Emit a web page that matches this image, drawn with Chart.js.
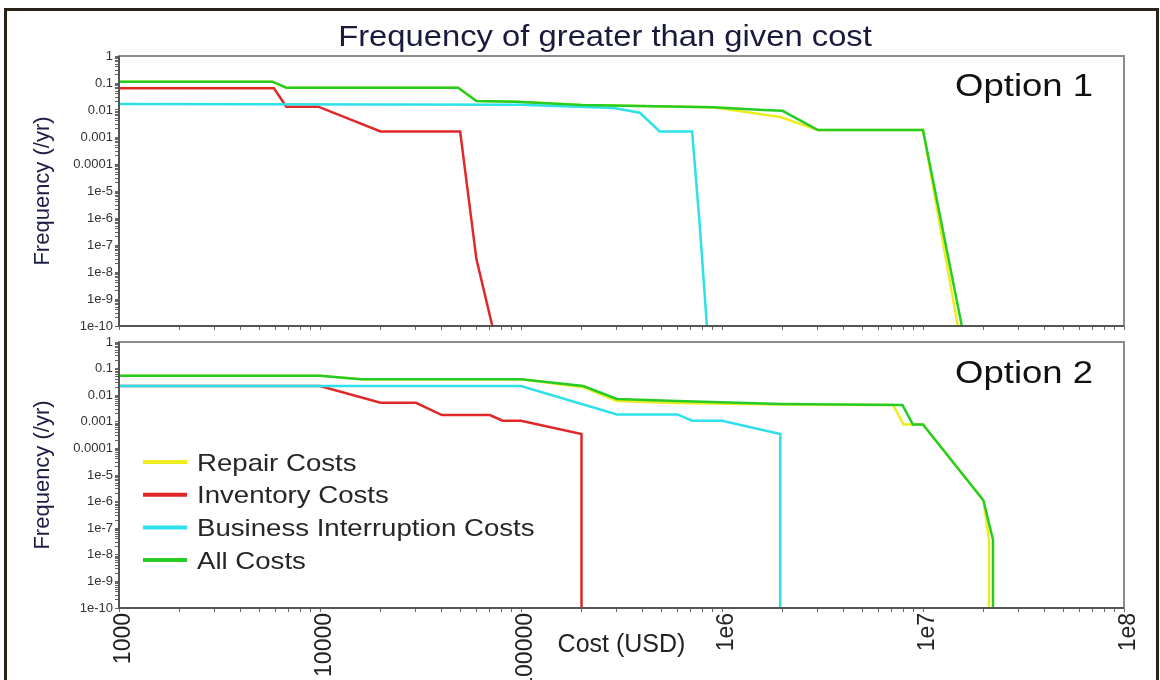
<!DOCTYPE html>
<html>
<head>
<meta charset="utf-8">
<script src="https://cdn.jsdelivr.net/npm/chart.js@4.4.1/dist/chart.umd.min.js"></script>
<style>
  html, body { margin: 0; padding: 0; background: #fff; }
  #wrap { position: relative; width: 1160px; height: 680px; overflow: hidden; }
  #frame { position: absolute; left: 4px; top: 8px; width: 1149px; height: 700px; border: 3px solid #2a2218; }
  #top { position: absolute; left: 0; top: 0; }
  #bottom { position: absolute; left: 0; top: 330px; }
</style>
</head>
<body>
<div id="wrap">
  <div id="frame"></div>
  <canvas id="top" width="1160" height="336"></canvas>
  <canvas id="bottom" width="1160" height="350"></canvas>
</div>
<script>
const seriesNames = ['Repair Costs', 'Inventory Costs', 'Business Interruption Costs', 'All Costs'];
const seriesColors = ['#ecec1e', '#e02828', '#2ee0ea', '#26cc26'];
const xTickLabels = ['1000', '10000', '100000', '1e6', '1e7', '1e8'];
const yTickLabels = ['1e-10', '1e-9', '1e-8', '1e-7', '1e-6', '1e-5', '0.0001', '0.001', '0.01', '0.1', '1'];

// Option 1 (cost in USD, frequency per year)
const opt1RepairCost = [1000, 5800, 6800, 48700, 60000, 95000, 200000, 900000, 1950000, 3000000, 10000000, 14900000];
const opt1RepairFreq = [0.112, 0.112, 0.067, 0.067, 0.0216, 0.0203, 0.0153, 0.0126, 0.0055, 0.0018, 0.0018, 1e-10];
const opt1InventoryCost = [1000, 5900, 6800, 9800, 20000, 49800, 60000, 72000];
const opt1InventoryFreq = [0.064, 0.064, 0.0133, 0.0133, 0.0016, 0.0016, 3e-8, 1e-10];
const opt1BusinessCost = [1000, 100000, 290000, 390000, 490000, 710000, 776000, 841000];
const opt1BusinessFreq = [0.0166, 0.0157, 0.0119, 0.0079, 0.0016, 0.0016, 4.8e-7, 1e-10];
const opt1AllCost = [1000, 5800, 6800, 48700, 60000, 95000, 200000, 900000, 1600000, 2000000, 3000000, 10000000, 15600000];
const opt1AllFreq = [0.112, 0.112, 0.067, 0.067, 0.0216, 0.0203, 0.0153, 0.0126, 0.0099, 0.0093, 0.0018, 0.0018, 1e-10];

// Option 2
const opt2RepairCost = [1000, 10000, 16000, 100000, 204000, 300000, 600000, 1950000, 7100000, 8000000, 10000000, 20000000, 21300000, 21300000];
const opt2RepairFreq = [0.054, 0.054, 0.04, 0.04, 0.02, 0.0061, 0.0051, 0.0045, 0.0043, 0.0008, 0.0008, 1.1e-6, 3.6e-8, 1e-10];
const opt2InventoryCost = [1000, 10000, 20000, 30000, 40400, 70000, 81000, 100000, 200000, 200000];
const opt2InventoryFreq = [0.022, 0.022, 0.0052, 0.0052, 0.0018, 0.0018, 0.0011, 0.0011, 0.00035, 1e-10];
const opt2BusinessCost = [1000, 100000, 300000, 600000, 710000, 1000000, 1950000, 1950000];
const opt2BusinessFreq = [0.022, 0.022, 0.0019, 0.0019, 0.0011, 0.0011, 0.00035, 1e-10];
const opt2AllCost = [1000, 10000, 16000, 100000, 204000, 300000, 600000, 1950000, 7900000, 8900000, 10000000, 20000000, 22300000, 22300000];
const opt2AllFreq = [0.054, 0.054, 0.04, 0.04, 0.022, 0.0072, 0.006, 0.0047, 0.0043, 0.0008, 0.0008, 1.1e-6, 3.6e-8, 1e-10];

const FONT = "'Liberation Sans', Arial, sans-serif";

function pts(xs, ys) {
  return xs.map((x, i) => ({ x: x, y: ys[i] }));
}

function makeSets(groups) {
  // green drawn on top, yellow at the bottom
  const order = [3, 2, 1, 0];
  return groups.map((g, i) => ({
    label: seriesNames[i],
    data: pts(g[0], g[1]),
    borderColor: seriesColors[i],
    borderWidth: 2.5,
    pointRadius: 0,
    tension: 0,
    fill: false,
    order: order[i]
  }));
}

// one tick per 1..9 x 10^e, names only on the decades
function logTicks(lo, hi, names) {
  const t = [];
  for (let e = lo; e < hi; e++) {
    for (let m = 1; m < 10; m++) {
      t.push({ value: m * Math.pow(10, e), name: m === 1 ? names[e - lo] : '' });
    }
  }
  t.push({ value: Math.pow(10, hi), name: names[hi - lo] });
  return t;
}

function wideText(ctx, text, x, y, size, align, color, sx) {
  ctx.save();
  ctx.font = size + 'px ' + FONT;
  ctx.fillStyle = color;
  ctx.textAlign = align;
  ctx.textBaseline = 'alphabetic';
  ctx.translate(x, y);
  ctx.scale(sx, 1);
  ctx.fillText(text, 0, 0);
  ctx.restore();
}

const plotFrame = {
  id: 'plotFrame',
  afterDatasetsDraw(chart) {
    const { ctx, chartArea: a } = chart;
    ctx.save();
    ctx.strokeStyle = '#8c8c8c';
    ctx.lineWidth = 2;
    ctx.strokeRect(a.left, a.top, a.right - a.left, a.bottom - a.top);
    ctx.strokeStyle = '#555';
    ctx.beginPath();
    ctx.moveTo(a.left, a.top);
    ctx.lineTo(a.left, a.bottom);
    ctx.lineTo(a.right, a.bottom);
    ctx.stroke();
    ctx.restore();
  }
};

const topTexts = {
  id: 'topTexts',
  afterDraw(chart) {
    const { ctx, chartArea: a } = chart;
    wideText(ctx, 'Frequency of greater than given cost', 605, 46, 29, 'center', '#1a1a3c', 1.13);
    wideText(ctx, 'Option 1', a.right - 31, a.top + 40, 32, 'right', '#111', 1.14);
  }
};

const bottomTexts = {
  id: 'bottomTexts',
  afterDraw(chart) {
    const { ctx, chartArea: a } = chart;
    wideText(ctx, 'Option 2', a.right - 31, a.top + 41, 32, 'right', '#111', 1.14);
    seriesNames.forEach((name, i) => {
      const y = a.top + 120 + i * 32.7;
      ctx.save();
      ctx.strokeStyle = seriesColors[i];
      ctx.lineWidth = 4;
      ctx.beginPath();
      ctx.moveTo(a.left + 24, y);
      ctx.lineTo(a.left + 68, y);
      ctx.stroke();
      ctx.restore();
      wideText(ctx, name, a.left + 78, y + 8.5, 24, 'left', '#262626', 1.15);
    });
  }
};

function buildChart(id, groups, padTop, axisHeight, showX, extra) {
  return new Chart(document.getElementById(id), {
    type: 'line',
    data: { datasets: makeSets(groups) },
    options: {
      responsive: false,
      animation: false,
      events: [],
      layout: { padding: { top: padTop, right: 36, bottom: 0, left: 0 } },
      plugins: { legend: { display: false }, tooltip: { enabled: false } },
      scales: {
        x: {
          type: 'logarithmic',
          min: 1000,
          max: 1e8,
          afterBuildTicks: s => { s.ticks = logTicks(3, 8, xTickLabels); },
          afterFit: s => { s.height = axisHeight; },
          border: { display: false },
          grid: { drawOnChartArea: false, drawTicks: true, tickLength: 4, color: '#666' },
          ticks: {
            display: showX,
            autoSkip: false,
            minRotation: 90,
            maxRotation: 90,
            padding: 1,
            labelOffset: 5,
            color: '#222',
            font: { family: FONT, size: 23 },
            callback: (v, i, ticks) => ticks[i].name
          },
          title: {
            display: showX,
            text: 'Cost (USD)',
            color: '#222',
            font: { family: FONT, size: 25 },
            padding: { top: 0, bottom: 20 }
          }
        },
        y: {
          type: 'logarithmic',
          min: 1e-10,
          max: 1,
          afterBuildTicks: s => { s.ticks = logTicks(-10, 0, yTickLabels); },
          afterFit: s => { s.width = 119; },
          border: { display: false },
          grid: { drawOnChartArea: false, drawTicks: true, tickLength: 4, color: '#666' },
          ticks: {
            autoSkip: false,
            padding: 2,
            color: '#333',
            font: { family: FONT, size: 13 },
            callback: (v, i, ticks) => ticks[i].name
          },
          title: {
            display: true,
            text: 'Frequency (/yr)',
            color: '#1c1c44',
            font: { family: FONT, size: 22 },
            padding: { top: 30, bottom: 0 }
          }
        }
      }
    },
    plugins: [plotFrame, extra]
  });
}

buildChart('top', [
  [opt1RepairCost, opt1RepairFreq],
  [opt1InventoryCost, opt1InventoryFreq],
  [opt1BusinessCost, opt1BusinessFreq],
  [opt1AllCost, opt1AllFreq]
], 56, 10, false, topTexts);

buildChart('bottom', [
  [opt2RepairCost, opt2RepairFreq],
  [opt2InventoryCost, opt2InventoryFreq],
  [opt2BusinessCost, opt2BusinessFreq],
  [opt2AllCost, opt2AllFreq]
], 12, 72, true, bottomTexts);
</script>
</body>
</html>
